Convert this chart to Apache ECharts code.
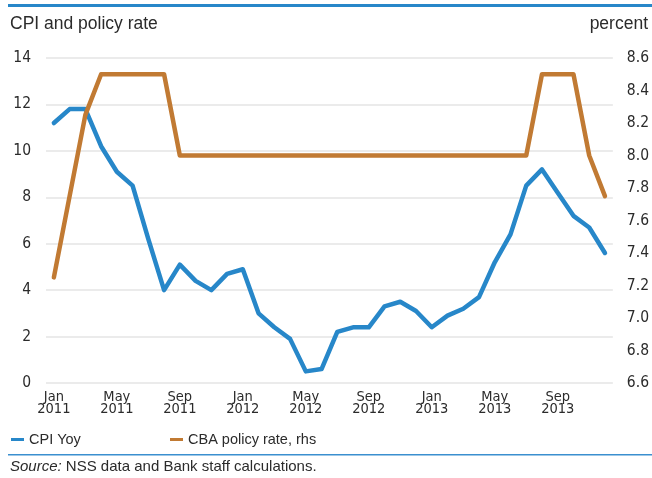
<!DOCTYPE html>
<html>
<head>
<meta charset="utf-8">
<script src="https://cdn.jsdelivr.net/npm/echarts@6/dist/echarts.min.js"></script>
<style>
  html, body { margin: 0; padding: 0; background: #fff; }
  #chart { width: 652px; height: 478px; }
</style>
</head>
<body>
<div id="chart"></div>
<script>
// Monthly observations, Jan 2011 – Dec 2013
const months = [
  'Jan 2011','Feb 2011','Mar 2011','Apr 2011','May 2011','Jun 2011',
  'Jul 2011','Aug 2011','Sep 2011','Oct 2011','Nov 2011','Dec 2011',
  'Jan 2012','Feb 2012','Mar 2012','Apr 2012','May 2012','Jun 2012',
  'Jul 2012','Aug 2012','Sep 2012','Oct 2012','Nov 2012','Dec 2012',
  'Jan 2013','Feb 2013','Mar 2013','Apr 2013','May 2013','Jun 2013',
  'Jul 2013','Aug 2013','Sep 2013','Oct 2013','Nov 2013','Dec 2013'
];

// Consumer price inflation, year on year (left axis)
const cpiYoy = [
  11.2, 11.8, 11.8, 10.2, 9.1, 8.5,
  6.2, 4.0, 5.1, 4.4, 4.0, 4.7,
  4.9, 3.0, 2.4, 1.9, 0.5, 0.6,
  2.2, 2.4, 2.4, 3.3, 3.5, 3.1,
  2.4, 2.9, 3.2, 3.7, 5.2, 6.4,
  8.5, 9.2, 8.2, 7.2, 6.7, 5.6
];

// Central bank refinancing rate (right axis)
const policyRate = [
  7.25, 7.75, 8.25, 8.5, 8.5, 8.5,
  8.5, 8.5, 8.0, 8.0, 8.0, 8.0,
  8.0, 8.0, 8.0, 8.0, 8.0, 8.0,
  8.0, 8.0, 8.0, 8.0, 8.0, 8.0,
  8.0, 8.0, 8.0, 8.0, 8.0, 8.0,
  8.0, 8.5, 8.5, 8.5, 8.0, 7.75
];

const BLUE = '#2787c9';
const ORANGE = '#c17a33';
const TEXT = '#2b2b2b';
const NARROW = '"Liberation Sans Narrow", "DejaVu Sans Condensed", "Roboto", sans-serif';
const SANS = '"Liberation Sans", "Arial", sans-serif';

const chart = echarts.init(document.getElementById('chart'), null, { renderer: 'canvas' });

chart.setOption({
  animation: false,
  backgroundColor: '#ffffff',
  textStyle: { fontFamily: SANS, color: TEXT },
  graphic: [
    { type: 'rect', shape: { x: 8, y: 4, width: 644, height: 3 }, style: { fill: BLUE } },
    { type: 'rect', shape: { x: 8, y: 454, width: 644, height: 1.5 }, style: { fill: '#3b8fcf' } },
    {
      type: 'text', left: 10, top: 15,
      style: { text: 'CPI and policy rate', font: '17.5px ' + SANS, fill: TEXT }
    },
    {
      type: 'text', right: 4, top: 15,
      style: { text: 'percent', font: '17.5px ' + SANS, fill: TEXT, textAlign: 'right' }
    },
    {
      type: 'text', left: 10, top: 459,
      style: {
        rich: {
          i: { fontFamily: SANS, fontSize: 15, fontStyle: 'italic', fill: TEXT },
          n: { fontFamily: SANS, fontSize: 15, fill: TEXT }
        },
        text: '{i|Source:}{n| NSS data and Bank staff calculations.}'
      }
    }
  ],
  legend: [
    {
      left: 6, top: 427, itemWidth: 13, itemHeight: 3, itemGap: 10,
      icon: 'rect', data: ['CPI Yoy'],
      textStyle: { fontFamily: SANS, fontSize: 14.5, color: TEXT }
    },
    {
      left: 165, top: 427, itemWidth: 13, itemHeight: 3, itemGap: 10,
      icon: 'rect', data: ['CBA policy rate, rhs'],
      textStyle: { fontFamily: SANS, fontSize: 14.5, color: TEXT }
    }
  ],
  grid: { left: 46, right: 39, top: 58, bottom: 95, containLabel: false },
  xAxis: {
    type: 'category',
    data: months,
    boundaryGap: true,
    axisLine: { show: false },
    axisTick: { show: false },
    axisLabel: {
      interval: 3,
      margin: 8,
      fontFamily: NARROW,
      fontSize: 14.5,
      lineHeight: 12,
      color: TEXT,
      formatter: v => v.replace(' ', '\n')
    }
  },
  yAxis: [
    {
      type: 'value', min: 0, max: 14, interval: 2,
      axisLine: { show: false }, axisTick: { show: false },
      axisLabel: { margin: 15, fontFamily: NARROW, fontSize: 15.5, color: TEXT },
      splitLine: { lineStyle: { color: '#e4e4e4', width: 1.5 } }
    },
    {
      type: 'value', min: 6.6, max: 8.6, interval: 0.2,
      axisLine: { show: false }, axisTick: { show: false },
      axisLabel: {
        margin: 14, fontFamily: NARROW, fontSize: 15.5, color: TEXT,
        formatter: v => v.toFixed(1)
      },
      splitLine: { show: false }
    }
  ],
  series: [
    {
      name: 'CPI Yoy', type: 'line', yAxisIndex: 0, data: cpiYoy,
      symbol: 'none', color: BLUE,
      lineStyle: { color: BLUE, width: 4.5, cap: 'round', join: 'round' }
    },
    {
      name: 'CBA policy rate, rhs', type: 'line', yAxisIndex: 1, data: policyRate,
      symbol: 'none', color: ORANGE,
      lineStyle: { color: ORANGE, width: 4.5, cap: 'round', join: 'round' }
    }
  ]
});
</script>
</body>
</html>
